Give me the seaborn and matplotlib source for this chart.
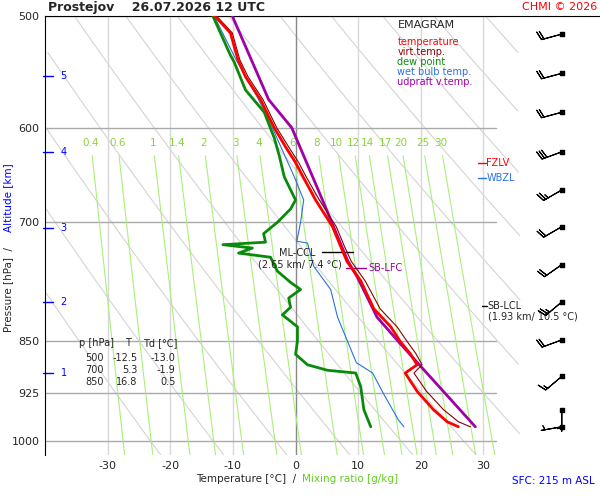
import numpy as np
import pandas as pd
import matplotlib
matplotlib.use("Agg")
import matplotlib.pyplot as plt
import seaborn as sns

sns.set_style("white")
plt.rcParams['font.family'] = ['DejaVu Sans']

# --- sounding data ---
t_p = [977, 969, 950, 922, 895, 883, 867, 850, 830, 806, 770, 746, 728, 705, 675, 650, 635, 620, 600, 573, 552, 537, 514, 500]
t_val = [26.0, 24.2, 22.0, 19.4, 17.5, 19.4, 18.3, 16.7, 15.2, 12.5, 10.4, 8.2, 7.2, 5.9, 3.2, 1.2, 0.0, -1.5, -3.4, -5.6, -8.0, -9.2, -10.4, -12.9]
tv_val = [27.9, 26.0, 23.6, 20.9, 18.9, 20.2, 19.2, 17.8, 16.2, 13.5, 11.1, 8.9, 7.8, 6.5, 3.8, 1.7, 0.5, -1.0, -3.0, -5.2, -7.6, -8.9, -10.1, -12.6]
td_p = [977, 950, 915, 895, 891, 883, 868, 850, 830, 814, 804, 792, 781, 772, 758, 741, 736, 730, 726, 723, 713, 700, 685, 675, 650, 628, 610, 585, 564, 539, 533, 500]
td_val = [12.0, 10.9, 10.4, 9.6, 5.1, 1.9, 0.0, 0.3, 0.3, -2.1, -0.8, -1.1, 0.8, -0.8, -2.9, -4.0, -9.1, -6.9, -11.6, -4.8, -5.1, -2.9, -0.8, 0.0, -1.8, -2.6, -3.4, -5.0, -8.0, -9.8, -10.4, -13.2]
tw_p = [977, 966, 925, 895, 880, 850, 817, 781, 752, 724, 722, 700, 675, 650, 600, 573, 537, 500]
tw_val = [17.3, 16.4, 14.0, 12.3, 9.7, 8.3, 6.7, 5.6, 2.9, 1.9, 0.2, 0.8, 1.3, -0.2, -3.7, -5.9, -9.5, -13.0]
pc_p = [977, 853, 817, 766, 745, 675, 600, 573, 500]
pc_val = [28.7, 16.7, 13.0, 9.9, 8.3, 4.3, -0.6, -4.3, -10.1]

# wind (pressure, speed kt, direction deg)
w_p = [515, 549, 585, 624, 664, 705, 750, 797, 848, 900, 951, 977]
w_spd = [20, 20, 20, 30, 25, 20, 20, 25, 20, 15, 5, 3]
w_dir = [255, 255, 255, 250, 240, 240, 235, 230, 250, 230, 180, 260]

mix_w = [0.4, 0.6, 1, 1.4, 2, 3, 4, 6, 8, 10, 12, 14, 17, 20, 25, 30]
tab_p = ["500", "700", "850"]
tab_t = ["-12.5", "5.3", "16.8"]
tab_td = ["-13.0", "-1.9", "0.5"]
alt_km = [1, 2, 3, 4, 5]
alt_p = [895, 797, 707, 624, 551]
p_lines = [500, 600, 700, 850, 925, 1000]

fig = plt.figure(figsize=(6, 5), dpi=100)
ax = fig.add_axes([0.075, 0.09, 0.925, 0.878])
ax.set_yscale('log')
ax.set_ylim(1023, 500)
ax.set_xlim(-40, 48.6)
for s in ['right', 'bottom']:
    ax.spines[s].set_visible(False)
ax.spines['left'].set_color('black')
ax.spines['top'].set_color('black')


def px(x, y):
    return (x - 295) / 6.27, 500 * np.exp((y - 16) / 613)


pp = np.linspace(500, 1023, 120)
# dry adiabats
for th in range(250, 431, 10):
    tt = th * (pp / 1000) ** 0.286 - 273.15
    m = (tt > -40) & (tt < 36)
    ax.plot(tt[m], pp[m], color='#d4d4d4', lw=0.8, zorder=1)
# isotherms
for t in range(-30, 31, 10):
    ax.plot([t, t], [500, 1023], color='#888888' if t == 0 else '#d8d8d8', lw=1, zorder=1)
# isobars
for p in p_lines:
    ax.plot([-40, 32], [p, p], color='#aaaaaa', lw=1, zorder=1)
# mixing ratio lines
pm = np.linspace(628, 1023, 50)
for w in mix_w:
    e = w * pm / (622 + w)
    le = np.log(e / 6.112)
    td = 243.5 * le / (17.67 - le)
    ax.plot(td, pm, color='#a8f07a', lw=0.8, zorder=1)
    e0 = w * 615 / (622 + w)
    l0 = np.log(e0 / 6.112)
    ax.text(243.5 * l0 / (17.67 - l0), 615, f"{w:g}", color='#8ad43a', fontsize=7.5, ha='center', va='center')

# profiles
def prof(pl, tl, color, lw):
    df = pd.DataFrame({'T': tl, 'p': pl})
    sns.lineplot(data=df, x='T', y='p', sort=False, estimator=None, color=color, lw=lw, ax=ax, zorder=3)

prof(tw_p, tw_val, '#2a72e0', 0.8)
prof(td_p, td_val, '#0a8a0a', 2)
prof(pc_p, pc_val, '#a000a8', 2)
prof(t_p, tv_val, '#8b0000', 0.8)
prof(t_p, t_val, '#ff0000', 2)

# axes labels/ticks
ax.set_xticks(range(-30, 31, 10))
ax.set_xticklabels([str(t) for t in range(-30, 31, 10)], fontsize=8)
ax.set_yticks(p_lines)
ax.set_yticklabels([str(p) for p in p_lines], fontsize=8)
ax.yaxis.set_minor_locator(matplotlib.ticker.NullLocator())
ax.tick_params(length=0, pad=4)
ax.set_xlabel('')
ax.set_ylabel('')

for k, p in zip(alt_km, alt_p):
    ax.plot([-40.3, -38.8], [p, p], color='blue', lw=1, clip_on=False)
    ax.text(-37.5, p, str(k), color='blue', fontsize=7, va='center')

# wind barbs
wd = np.radians(w_dir)
u = -np.array(w_spd) * np.sin(wd)
v = -np.array(w_spd) * np.cos(wd)
ax.barbs([42.5] * len(w_p), w_p, u, v, length=5.5, lw=0.8, color='black', zorder=4)
ax.scatter([42.5] * len(w_p), w_p, s=5, color='black', marker='s', zorder=5)

# annotations
def txt(x, y, s, **kw):
    a, b = px(x, y)
    ax.text(a, b, s, **kw)

def seg(x0, x1, y, **kw):
    a0, b = px(x0, y)
    a1, _ = px(x1, y)
    ax.plot([a0, a1], [b, b], **kw)

seg(478, 486, 163, color='red', lw=1)
txt(486, 163, 'FZLV', color='red', fontsize=7, va='center')
seg(478, 486, 178, color='#2a72e0', lw=1)
txt(486, 178, 'WBZL', color='#2a72e0', fontsize=7, va='center')
seg(321, 352, 252, color='black', lw=1)
txt(297, 253, 'ML-CCL', fontsize=7, ha='center', va='center')
txt(299, 264, '(2.65 km/ 7.4 °C)', fontsize=7, ha='center', va='center')
seg(345, 366, 268, color='#a000a8', lw=1)
txt(368, 268, 'SB-LFC', color='#a000a8', fontsize=7, va='center')
seg(482, 487, 306, color='black', lw=1)
txt(487, 306, 'SB-LCL', fontsize=7, va='center')
txt(533, 316, '(1.93 km/ 10.5 °C)', fontsize=7, ha='center', va='center')

# legend box
txt(397, 25, 'EMAGRAM', fontsize=8, va='center')
for i, (lab, c) in enumerate([('temperature', '#ff0000'), ('virt.temp.', '#8b0000'), ('dew point', '#0a8a0a'),
                              ('wet bulb temp.', '#2a72e0'), ('udpraft v.temp.', '#a000a8')]):
    txt(397, 42 + 10 * i, lab, color=c, fontsize=7, va='center')

# table
txt(78, 343, 'p [hPa]', fontsize=7, va='center')
txt(124, 343, 'T', fontsize=7, va='center')
txt(142, 343, 'Td [°C]', fontsize=7, va='center')
for i in range(3):
    y = 358 + 12 * i
    txt(103, y, tab_p[i], fontsize=7, va='center', ha='right')
    txt(137, y, tab_t[i], fontsize=7, va='center', ha='right')
    txt(175, y, tab_td[i], fontsize=7, va='center', ha='right')

# figure texts
fig.text(48 / 600, 1 - 7 / 500, 'Prostejov    26.07.2026 12 UTC', fontsize=9, fontweight='bold', va='center')
fig.text(597 / 600, 1 - 7 / 500, 'CHMI © 2026', fontsize=8, color='red', ha='right', va='center')
fig.text(196 / 600, 1 - 479 / 500, 'Temperature [°C]  /  ', fontsize=7.5, va='center')
fig.text(302 / 600, 1 - 479 / 500, 'Mixing ratio [g/kg]', fontsize=7.5, color='#66cc22', va='center')
fig.text(512 / 600, 1 - 481 / 500, 'SFC: 215 m ASL', fontsize=7.5, color='blue', va='center')
fig.text(8 / 600, 1 - 332 / 500, 'Pressure [hPa]  /  ', fontsize=7.5, rotation=90, ha='center', va='bottom')
fig.text(8 / 600, 1 - 232 / 500, 'Altitude [km]', fontsize=7.5, rotation=90, color='blue', ha='center', va='bottom')

fig.savefig('out.png', dpi=100)
